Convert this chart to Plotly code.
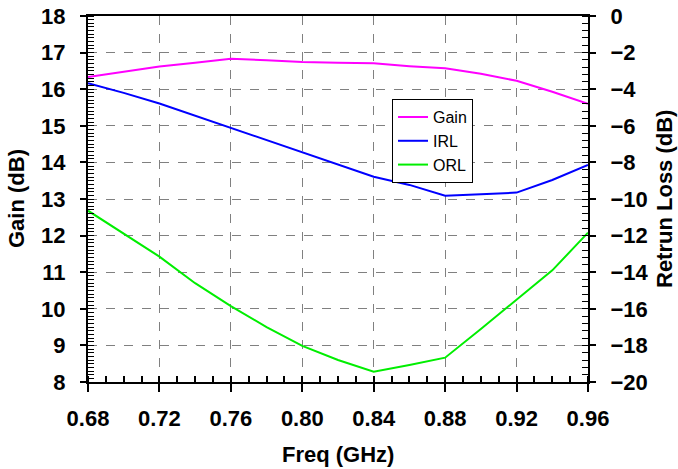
import plotly.graph_objects as go

freq = [0.68, 0.70, 0.72, 0.74, 0.76, 0.78, 0.80, 0.82, 0.84, 0.86, 0.88, 0.90, 0.92, 0.94, 0.96]
gain = [16.33, 16.48, 16.62, 16.72, 16.83, 16.79, 16.74, 16.72, 16.71, 16.63, 16.57, 16.42, 16.23, 15.93, 15.60]
irl = [-3.68, -4.20, -4.78, -5.45, -6.10, -6.80, -7.45, -8.15, -8.78, -9.23, -9.82, -9.74, -9.65, -8.96, -8.14]
orl = [-10.64, -11.90, -13.15, -14.60, -15.85, -17.00, -18.03, -18.80, -19.44, -19.07, -18.67, -17.10, -15.48, -13.90, -11.84]

x_ticks = [0.68, 0.72, 0.76, 0.80, 0.84, 0.88, 0.92, 0.96]
x_ticklabels = ["0.68", "0.72", "0.76", "0.80", "0.84", "0.88", "0.92", "0.96"]

FONT = "Liberation Sans, Arial, sans-serif"

fig = go.Figure()
fig.add_trace(go.Scatter(x=freq, y=gain, name="Gain", mode="lines",
                         line=dict(color="#ff00ff", width=2), yaxis="y"))
fig.add_trace(go.Scatter(x=freq, y=irl, name="IRL", mode="lines",
                         line=dict(color="#0000ff", width=2), yaxis="y2"))
fig.add_trace(go.Scatter(x=freq, y=orl, name="ORL", mode="lines",
                         line=dict(color="#00ee00", width=2), yaxis="y2"))

tickfont = dict(family=FONT, size=22, color="black", weight="bold")
titlefont = dict(family=FONT, size=22, color="black", weight="bold")
grid = dict(showgrid=True, gridcolor="#808080", gridwidth=1, griddash="dash")

fig.update_layout(
    width=678, height=469,
    margin=dict(l=88, r=90, t=16, b=87),
    paper_bgcolor="white", plot_bgcolor="white",
    showlegend=True,
    legend=dict(x=0.608, y=0.773, xanchor="left", yanchor="top",
                bordercolor="black", borderwidth=1, bgcolor="white",
                font=dict(family=FONT, size=16, color="black"),
                itemwidth=30, tracegroupgap=0),
    xaxis=dict(range=[0.68, 0.96], tickvals=x_ticks, ticktext=x_ticklabels,
               showline=True, linecolor="black", linewidth=2, mirror=True,
               ticks="outside", ticklen=8, tickwidth=2, tickcolor="black",
               minor=dict(dtick=0.01, ticks="inside", ticklen=6, tickwidth=2,
                          tickcolor="black", showgrid=False),
               tickfont=tickfont, ticklabelstandoff=8, automargin=False,
               zeroline=False, **grid),
    yaxis=dict(range=[8, 18], dtick=1,
               showline=True, linecolor="black", linewidth=2,
               ticks="outside", ticklen=6, tickwidth=2, tickcolor="black",
               minor=dict(dtick=0.1, ticks="inside", ticklen=6, tickwidth=1,
                          tickcolor="black", showgrid=False),
               tickfont=tickfont, ticklabelstandoff=10, automargin=False,
               zeroline=False, **grid),
    yaxis2=dict(range=[-20, 0], dtick=2, overlaying="y", side="right",
                showline=True, linecolor="black", linewidth=2,
                ticks="outside", ticklen=6, tickwidth=2, tickcolor="black",
                minor=dict(dtick=0.4, ticks="inside", ticklen=6, tickwidth=1,
                           tickcolor="black", showgrid=False),
                tickfont=tickfont, ticklabelstandoff=10, automargin=False,
                showgrid=False, zeroline=False),
    annotations=[
        dict(text="Freq (GHz)", xref="paper", yref="paper", x=0.5, y=-0.199,
             xanchor="center", yanchor="middle", showarrow=False, font=titlefont),
        dict(text="Gain (dB)", xref="paper", yref="paper", x=-0.144, y=0.5,
             xanchor="center", yanchor="middle", textangle=-90, showarrow=False, font=titlefont),
        dict(text="Retrun Loss (dB)", xref="paper", yref="paper", x=1.152, y=0.5,
             xanchor="center", yanchor="middle", textangle=-90, showarrow=False, font=titlefont),
    ],
)

fig.write_html("out.html", config={"displayModeBar": False},
               post_script="document.body.style.margin='0';document.body.style.overflow='hidden';")
